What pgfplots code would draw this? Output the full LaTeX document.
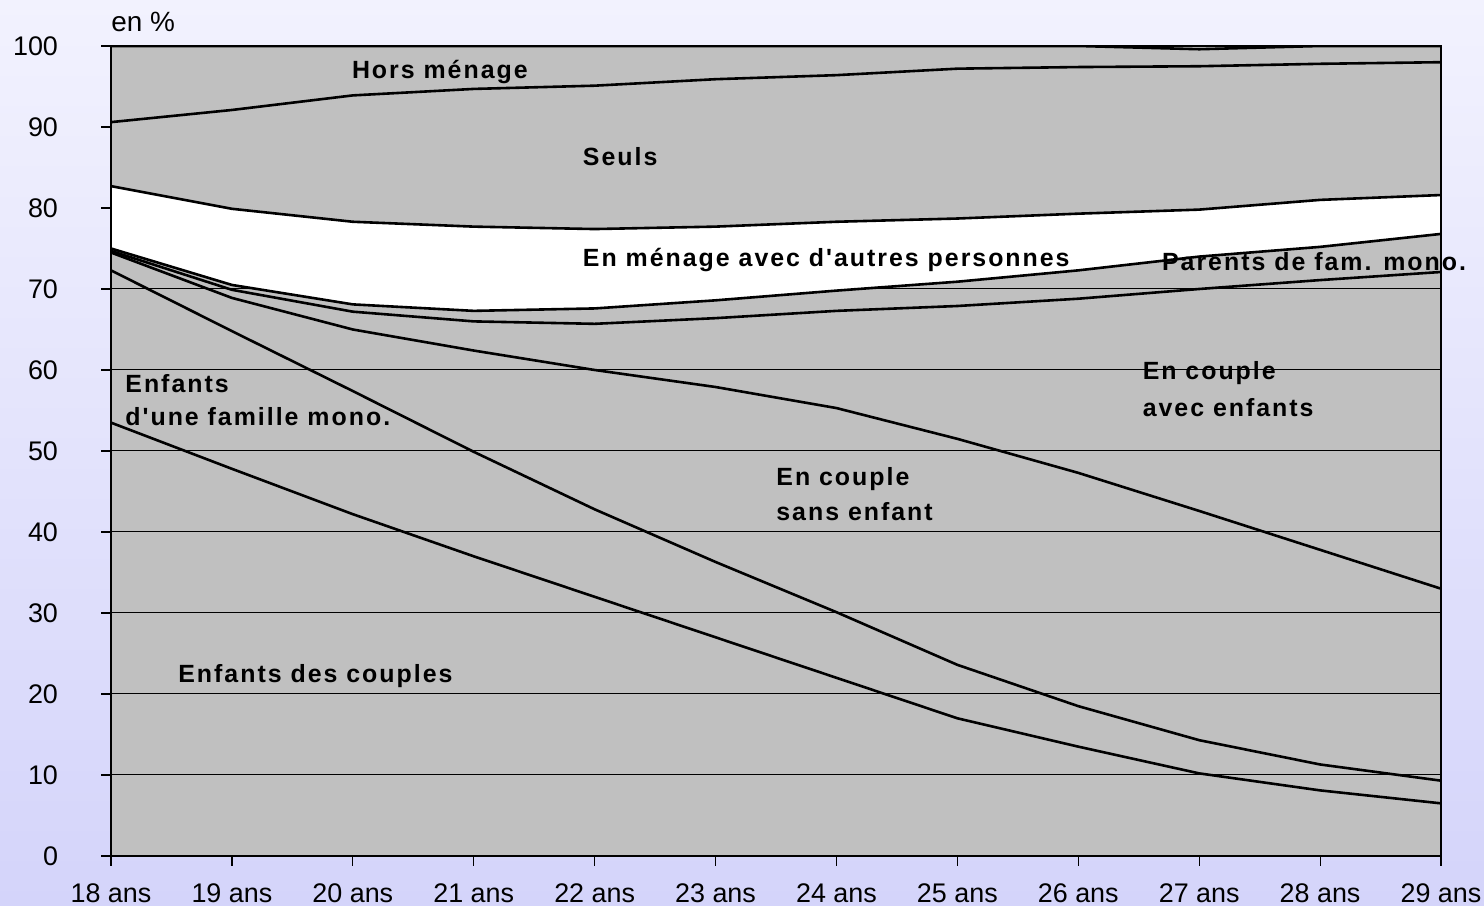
\documentclass[border=0pt]{standalone}
\usepackage{fontspec}
\setmainfont{Liberation Sans}
\newfontfamily\lblfont[LetterSpace=8]{Liberation Sans}
\usepackage{pgfplots}
\pgfplotsset{compat=1.18}
\usepackage{pgfplotstable}
\usetikzlibrary{backgrounds}
\definecolor{areagray}{RGB}{192,192,192}
\definecolor{bgtop}{RGB}{242,242,254}
\definecolor{bgbot}{RGB}{212,212,250}

% cumulative boundaries (en %)
\pgfplotstableread{
x a b c d e f g h
0 53.5 72.3 74.5 74.7 75.0 82.7 90.6 100
1 47.8 64.8 68.9 69.9 70.5 79.9 92.1 100
2 42.2 57.4 65.0 67.2 68.1 78.3 93.9 100
3 37.0 49.9 62.4 66.0 67.3 77.7 94.7 100
4 32.0 42.8 60.0 65.7 67.6 77.4 95.1 100
5 27.0 36.3 57.9 66.4 68.6 77.7 95.9 100
6 22.0 30.1 55.3 67.3 69.8 78.3 96.4 100
7 17.0 23.6 51.5 67.9 70.9 78.7 97.2 100
8 13.5 18.5 47.3 68.8 72.3 79.3 97.4 100
9 10.2 14.3 42.6 70.0 74.0 79.8 97.5 99.6
10 8.1 11.3 37.8 71.1 75.2 81.0 97.8 100
11 6.5 9.3 33.0 72.1 76.8 81.6 98.0 100
}\data

\newcommand{\lbl}{\lblfont\bfseries\fontsize{12.5}{14}\selectfont}

\begin{document}
\begin{tikzpicture}
\begin{axis}[
  scale only axis, width=665bp, height=405bp,
  xmin=0, xmax=11, ymin=0, ymax=100,
  xtick={0,...,11},
  xticklabels={18 ans,19 ans,20 ans,21 ans,22 ans,23 ans,24 ans,25 ans,26 ans,27 ans,28 ans,29 ans},
  ytick={0,10,...,100},
  xtick pos=bottom, ytick pos=left,
  tick align=outside, major tick length=5bp,
  tick style={black, line width=0.6bp},
  axis line style={black, line width=1.3bp},
  ymajorgrids, grid style={black, line width=0.5bp},
  axis background/.style={fill=areagray},
  tick label style={font=\fontsize{13.5}{16}\selectfont},
  /pgf/number format/assume math mode=true,
  xticklabel style={yshift=-5.5bp},
  yticklabel style={xshift=-18bp},
  clip mode=individual,
]
% white band: En menage avec d'autres personnes
\addplot[fill=white, draw=none] coordinates {
 (0,82.7)(1,79.9)(2,78.3)(3,77.7)(4,77.4)(5,77.7)(6,78.3)(7,78.7)(8,79.3)(9,79.8)(10,81.0)(11,81.6)
 (11,76.8)(10,75.2)(9,74.0)(8,72.3)(7,70.9)(6,69.8)(5,68.6)(4,67.6)(3,67.3)(2,68.1)(1,70.5)(0,75.0)} -- cycle;
% gray top areas (Seuls, Hors menage)
\addplot[fill=areagray, draw=none] coordinates {
 (0,82.7)(1,79.9)(2,78.3)(3,77.7)(4,77.4)(5,77.7)(6,78.3)(7,78.7)(8,79.3)(9,79.8)(10,81.0)(11,81.6)
 (11,100)(0,100)} -- cycle;

\addplot[black, line width=1.3bp] table[x=x,y=a]{\data};
\addplot[black, line width=1.3bp] table[x=x,y=b]{\data};
\addplot[black, line width=1.3bp] table[x=x,y=c]{\data};
\addplot[black, line width=1.3bp] table[x=x,y=d]{\data};
\addplot[black, line width=1.3bp] table[x=x,y=e]{\data};
\addplot[black, line width=1.3bp] table[x=x,y=f]{\data};
\addplot[black, line width=1.3bp] table[x=x,y=g]{\data};
\addplot[black, line width=1.3bp] table[x=x,y=h]{\data};

\draw[black, line width=1.3bp] (rel axis cs:0,0) rectangle (rel axis cs:1,1);
\coordinate (A) at (rel axis cs:0,0);
\coordinate (B) at (rel axis cs:1,1);

\node[anchor=base west, inner sep=0] at (axis cs:1.99,96.0) {\lbl Hors ménage};
\node[anchor=base west, inner sep=0] at (axis cs:3.90,85.2) {\lbl Seuls};
\node[anchor=base west, inner sep=0] at (axis cs:3.90,72.8) {\lbl En ménage avec d'autres personnes};
\node[anchor=base west, inner sep=0] at (axis cs:8.69,72.3) {\lbl Parents de fam. mono.};
\node[anchor=base west, inner sep=0] at (axis cs:8.53,58.8) {\lbl En couple};
\node[anchor=base west, inner sep=0] at (axis cs:8.53,54.2) {\lbl avec enfants};
\node[anchor=base west, inner sep=0] at (axis cs:0.116,57.2) {\lbl Enfants};
\node[anchor=base west, inner sep=0] at (axis cs:0.116,53.2) {\lbl d'une famille mono.};
\node[anchor=base west, inner sep=0] at (axis cs:5.50,45.8) {\lbl En couple};
\node[anchor=base west, inner sep=0] at (axis cs:5.50,41.4) {\lbl sans enfant};
\node[anchor=base west, inner sep=0] at (axis cs:0.554,21.4) {\lbl Enfants des couples};
\end{axis}
\node[anchor=base west, inner sep=0, font=\fontsize{14}{16}\selectfont] at ([yshift=7bp]B -| A) {en \%};
\begin{scope}[on background layer]
\shade[top color=bgtop, bottom color=bgbot] ([shift={(-55.5bp,-25bp)}]A) rectangle ([shift={(21.5bp,23bp)}]B);
\end{scope}
\pgfresetboundingbox
\path ([shift={(-55.5bp,-25bp)}]A) rectangle ([shift={(21.5bp,23bp)}]B);
\end{tikzpicture}
\end{document}
